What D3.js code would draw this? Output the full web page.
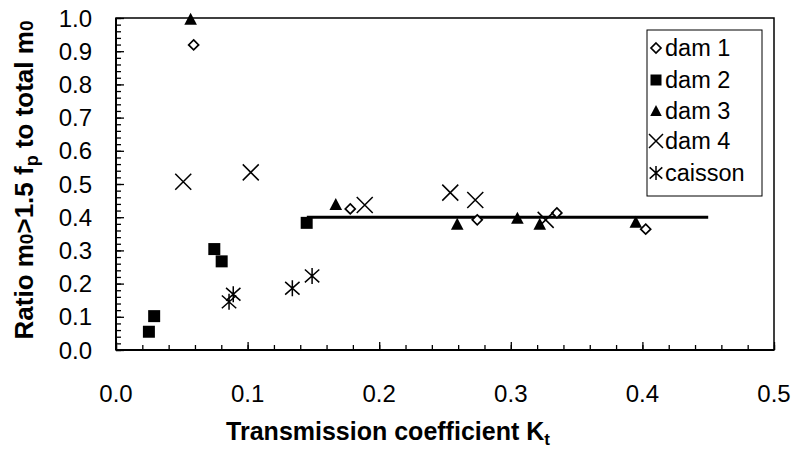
<!DOCTYPE html>
<html>
<head>
<meta charset="utf-8">
<script src="https://cdn.jsdelivr.net/npm/d3@7"></script>
<style>
  html, body { margin: 0; padding: 0; background: #fff; }
  svg { display: block; font-family: "Liberation Sans", Arial, sans-serif; }
</style>
</head>
<body>
<svg id="chart" width="794" height="460"></svg>
<script>
// Ratio of energy above 1.5 fp versus transmission coefficient Kt
const dam1X = [0.059, 0.178, 0.2745, 0.335, 0.4025];
const dam1Y = [0.919, 0.425, 0.392, 0.413, 0.364];

const dam2X = [0.025, 0.029, 0.0747, 0.0803, 0.1449];
const dam2Y = [0.055, 0.102, 0.304, 0.267, 0.383];

const dam3X = [0.0567, 0.167, 0.2593, 0.305, 0.322, 0.395];
const dam3Y = [0.998, 0.44, 0.38, 0.398, 0.38, 0.386];

const dam4X = [0.0511, 0.1024, 0.189, 0.254, 0.273, 0.3265];
const dam4Y = [0.507, 0.535, 0.437, 0.474, 0.452, 0.392];

const caissonX = [0.0859, 0.0891, 0.134, 0.149];
const caissonY = [0.145, 0.168, 0.186, 0.223];

// horizontal mean line
const meanLineX = [0.145, 0.45];
const meanLineY = [0.40, 0.40];

const xTicks = [0.0, 0.1, 0.2, 0.3, 0.4, 0.5];
const yTicks = [0.0, 0.1, 0.2, 0.3, 0.4, 0.5, 0.6, 0.7, 0.8, 0.9, 1.0];
const seriesNames = ["dam 1", "dam 2", "dam 3", "dam 4", "caisson"];

const svg = d3.select("#chart");
const plot = { left: 116, right: 774, top: 18, bottom: 350 };

const x = d3.scaleLinear().domain([0, 0.5]).range([plot.left, plot.right]);
const y = d3.scaleLinear().domain([0, 1]).range([plot.bottom, plot.top]);

// marker shapes, centred on the origin
function markerPath(kind, s) {
  const p = d3.path();
  const h = s / 2;
  if (kind === "diamond") {
    p.moveTo(0, -h); p.lineTo(h, 0); p.lineTo(0, h); p.lineTo(-h, 0); p.closePath();
  } else if (kind === "square") {
    p.rect(-h, -h, s, s);
  } else if (kind === "triangle") {
    p.moveTo(0, -h); p.lineTo(h * 1.05, h); p.lineTo(-h * 1.05, h); p.closePath();
  } else if (kind === "cross") {
    p.moveTo(-h, -h); p.lineTo(h, h); p.moveTo(h, -h); p.lineTo(-h, h);
  } else if (kind === "star") {
    const a = h * 0.9;
    p.moveTo(-a, -h * 0.8); p.lineTo(a, h * 0.8); p.moveTo(a, -h * 0.8); p.lineTo(-a, h * 0.8);
    p.moveTo(0, -h); p.lineTo(0, h);
  }
  return p.toString();
}

const series = [
  { name: seriesNames[0], xs: dam1X, ys: dam1Y, kind: "diamond", size: 10, fill: "#fff", sw: 1.7, leg: 10 },
  { name: seriesNames[1], xs: dam2X, ys: dam2Y, kind: "square", size: 12, fill: "#000", sw: 0, leg: 11 },
  { name: seriesNames[2], xs: dam3X, ys: dam3Y, kind: "triangle", size: 12, fill: "#000", sw: 0, leg: 11 },
  { name: seriesNames[3], xs: dam4X, ys: dam4Y, kind: "cross", size: 16, fill: "none", sw: 1.5, leg: 14 },
  { name: seriesNames[4], xs: caissonX, ys: caissonY, kind: "star", size: 16, fill: "none", sw: 1.5, leg: 14 }
];

// plot frame (top and right edges)
svg.append("rect")
  .attr("x", plot.left).attr("y", plot.top)
  .attr("width", plot.right - plot.left).attr("height", plot.bottom - plot.top)
  .attr("fill", "none").attr("stroke", "#000").attr("stroke-width", 1.5);

// axes with inward ticks
const xMinor = d3.range(0, 0.5001, 0.02);
const yMinor = d3.range(0, 1.0001, 0.02);

const xAxisG = svg.append("g").attr("transform", `translate(0,${plot.bottom})`);
xAxisG.call(d3.axisBottom(x).tickValues(xMinor).tickSize(-5).tickFormat(""))
  .call(g => g.select(".domain").remove());
xAxisG.append("g").call(d3.axisBottom(x).tickValues(xTicks).tickSize(-8).tickFormat(""))
  .call(g => g.select(".domain").remove());
xAxisG.selectAll("line").attr("stroke", "#000").attr("stroke-width", 1.3);

const yAxisG = svg.append("g").attr("transform", `translate(${plot.left},0)`);
yAxisG.call(d3.axisLeft(y).tickValues(yMinor).tickSize(-5).tickFormat(""))
  .call(g => g.select(".domain").remove());
yAxisG.append("g").call(d3.axisLeft(y).tickValues(yTicks).tickSize(-8).tickFormat(""))
  .call(g => g.select(".domain").remove());
yAxisG.selectAll("line").attr("stroke", "#000").attr("stroke-width", 1.3);

// axis lines
svg.append("line").attr("x1", plot.left).attr("x2", plot.right)
  .attr("y1", plot.bottom).attr("y2", plot.bottom).attr("stroke", "#000").attr("stroke-width", 2);
svg.append("line").attr("x1", plot.left).attr("x2", plot.left)
  .attr("y1", plot.top).attr("y2", plot.bottom).attr("stroke", "#000").attr("stroke-width", 2);

// tick labels
svg.append("g").selectAll("text").data(xTicks).join("text")
  .attr("x", d => x(d)).attr("y", 402)
  .attr("text-anchor", "middle").attr("font-size", 24).attr("fill", "#000")
  .text(d => d3.format(".1f")(d));

svg.append("g").selectAll("text").data(yTicks).join("text")
  .attr("x", 92).attr("y", d => y(d) + 8.5)
  .attr("text-anchor", "end").attr("font-size", 24).attr("fill", "#000")
  .text(d => d3.format(".1f")(d));

// mean line
svg.append("path")
  .datum(meanLineX.map((v, i) => [v, meanLineY[i]]))
  .attr("d", d3.line().x(d => x(d[0])).y(d => y(d[1])))
  .attr("fill", "none").attr("stroke", "#000").attr("stroke-width", 3);

// data markers
series.forEach(s => {
  svg.append("g").selectAll("path")
    .data(s.xs.map((v, i) => [v, s.ys[i]]))
    .join("path")
    .attr("transform", d => `translate(${x(d[0])},${y(d[1])})`)
    .attr("d", markerPath(s.kind, s.size))
    .attr("fill", s.fill)
    .attr("stroke", "#000")
    .attr("stroke-width", s.sw);
});

// legend
const legend = svg.append("g");
legend.append("rect")
  .attr("x", 647).attr("y", 30).attr("width", 115).attr("height", 166)
  .attr("fill", "#fff").attr("stroke", "#000").attr("stroke-width", 1);
const legendRows = [48, 80, 110.5, 141, 173];
series.forEach((s, i) => {
  const ly = legendRows[i];
  legend.append("path")
    .attr("transform", `translate(656,${ly})`)
    .attr("d", markerPath(s.kind, s.leg))
    .attr("fill", s.fill).attr("stroke", "#000").attr("stroke-width", s.sw);
  legend.append("text")
    .attr("x", 665).attr("y", ly + 8)
    .attr("font-size", 23.5).attr("fill", "#000")
    .text(s.name);
});

// axis titles
const xTitle = svg.append("text")
  .attr("x", 388).attr("y", 440)
  .attr("text-anchor", "middle").attr("font-size", 25).attr("font-weight", "bold");
xTitle.append("tspan").text("Transmission coefficient K");
xTitle.append("tspan").attr("font-size", 17).attr("dy", 5).text("t");

const yTitle = svg.append("text")
  .attr("transform", "translate(33,180) rotate(-90)")
  .attr("text-anchor", "middle").attr("font-size", 26).attr("font-weight", "bold");
yTitle.append("tspan").text("Ratio m");
yTitle.append("tspan").attr("font-size", 19).text("0");
yTitle.append("tspan").text(">1.5 f");
yTitle.append("tspan").attr("font-size", 18).attr("dy", 5).text("p");
yTitle.append("tspan").attr("dy", -5).text(" to total m");
yTitle.append("tspan").attr("font-size", 19).text("0");
</script>
</body>
</html>
